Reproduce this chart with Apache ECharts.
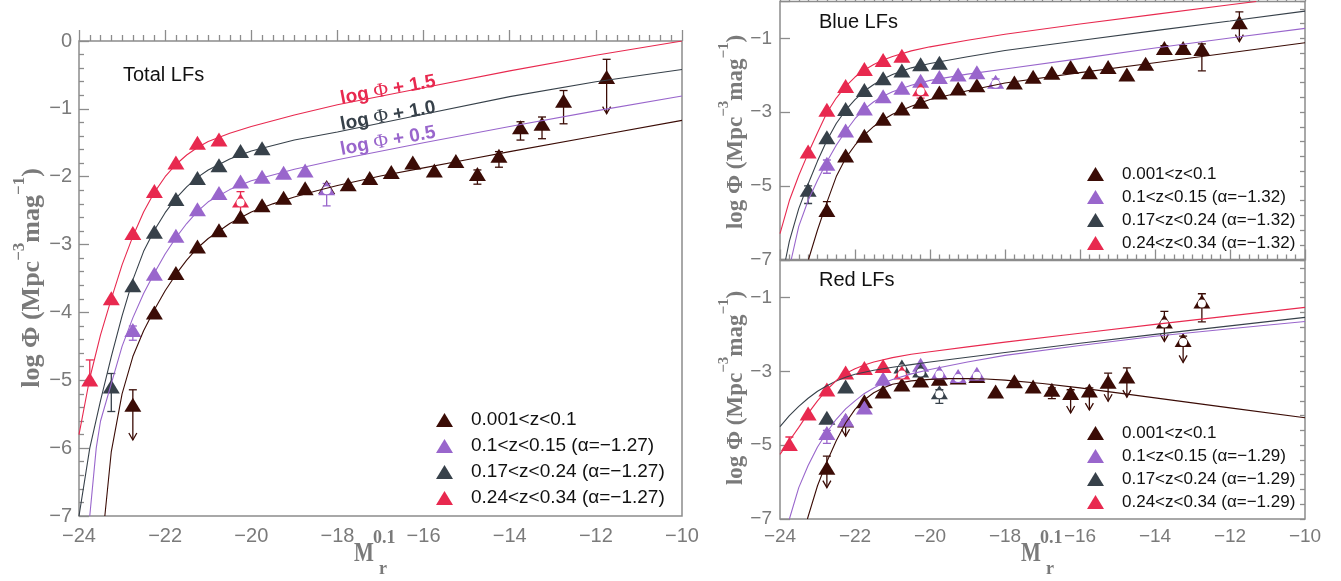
<!DOCTYPE html>
<html><head><meta charset="utf-8">
<script src="https://cdn.jsdelivr.net/npm/echarts@6/dist/echarts.min.js"></script>
<style>html,body{margin:0;padding:0;background:#fff}#c{width:1341px;height:581px}</style>
</head><body><div id="c"></div>
<script>
// ---------------- DATA ----------------
const xTicks = [-24, -22, -20, -18, -16, -14, -12, -10];
const NAMES_TOTAL = ['0.001<z<0.1', '0.1<z<0.15 (α=\u22121.27)', '0.17<z<0.24 (α=\u22121.27)', '0.24<z<0.34 (α=\u22121.27)'];
const NAMES_BLUE  = ['0.001<z<0.1', '0.1<z<0.15 (α=\u22121.32)', '0.17<z<0.24 (α=\u22121.32)', '0.24<z<0.34 (α=\u22121.32)'];
const NAMES_RED   = ['0.001<z<0.1', '0.1<z<0.15 (α=\u22121.29)', '0.17<z<0.24 (α=\u22121.29)', '0.24<z<0.34 (α=\u22121.29)'];

// Total LFs
const tBrown = [[-22.75,-5.36],[-22.25,-4.0],[-21.75,-3.42],[-21.25,-3.03],[-20.75,-2.79],[-20.25,-2.59],[-19.75,-2.42],[-19.25,-2.31],[-18.75,-2.17],[-18.25,-2.15],[-17.75,-2.11],[-17.25,-2.02],[-16.75,-1.93],[-16.25,-1.79],[-15.75,-1.91],[-15.25,-1.77],[-14.75,-1.96],[-14.25,-1.69],[-13.75,-1.27],[-13.25,-1.22],[-12.75,-0.88],[-11.75,-0.53]];
const tPurple = [[-22.75,-4.26],[-22.25,-3.43],[-21.75,-2.87],[-21.25,-2.48],[-20.75,-2.24],[-20.25,-2.07],[-19.75,-2.0],[-19.25,-1.94],[-18.75,-1.91]];
const tGray = [[-23.25,-5.09],[-22.75,-3.6],[-22.25,-2.81],[-21.75,-2.33],[-21.25,-2.02],[-20.75,-1.83],[-20.25,-1.62],[-19.75,-1.58]];
const tRed = [[-23.75,-4.99],[-23.25,-3.79],[-22.75,-2.83],[-22.25,-2.21],[-21.75,-1.79],[-21.25,-1.5],[-20.75,-1.45]];
const tPurpleOpen = [[-18.25,-2.17]];
const tRedOpen = [[-20.25,-2.35]];
// [x, top, bottom, arrow]
const tBrownErr = [[-22.75,-5.14,-5.88,1],[-14.75,-1.9,-2.11,0],[-14.25,-1.63,-1.86,0],[-13.75,-1.19,-1.46,0],[-13.25,-1.12,-1.44,0],[-12.75,-0.73,-1.22,0],[-11.75,-0.27,-1.07,1]];
const tPurpleErr = [[-22.75,-4.2,-4.41,0],[-18.25,-2.1,-2.43,0]];
const tGrayErr = [[-23.25,-4.9,-5.46,0]];
const tRedErr = [[-23.75,-4.7,-4.99,0],[-20.25,-2.22,-2.66,0]];
const tBrownFit = [[-23.4,-7],[-23.25,-6.05],[-23.0,-5.2],[-22.75,-4.65],[-22.5,-4.27],[-22.25,-3.96],[-22.0,-3.68],[-21.75,-3.44],[-21.5,-3.23],[-21.25,-3.05],[-21.0,-2.91],[-20.5,-2.69],[-20.0,-2.52],[-19.5,-2.4],[-19.0,-2.3],[-18.5,-2.21],[-18.0,-2.13],[-17.0,-1.99],[-16.0,-1.87],[-15.0,-1.75],[-14.0,-1.63],[-12.0,-1.4],[-10.0,-1.17]];
const tPurpleFit = [[-23.75,-7],[-23.6,-6.0],[-23.5,-5.6],[-23.25,-5.05],[-23.0,-4.5],[-22.75,-4.08],[-22.5,-3.72],[-22.25,-3.42],[-22.0,-3.14],[-21.75,-2.9],[-21.5,-2.69],[-21.25,-2.51],[-21.0,-2.37],[-20.5,-2.19],[-20.0,-2.06],[-19.0,-1.89],[-18.0,-1.75],[-16.0,-1.5],[-14.0,-1.26],[-12.0,-1.03],[-10.0,-0.81]];
const tGrayFit = [[-24.0,-7],[-23.75,-6.0],[-23.5,-5.3],[-23.25,-4.65],[-23.0,-4.05],[-22.75,-3.52],[-22.5,-3.1],[-22.25,-2.79],[-22.0,-2.53],[-21.75,-2.32],[-21.5,-2.15],[-21.25,-2.01],[-21.0,-1.9],[-20.5,-1.74],[-20.0,-1.62],[-19.0,-1.46],[-18.0,-1.34],[-16.0,-1.08],[-14.0,-0.82],[-12.0,-0.6],[-10.0,-0.42]];
const tRedFit = [[-24.0,-5.8],[-23.75,-4.97],[-23.5,-4.33],[-23.25,-3.8],[-23.0,-3.3],[-22.75,-2.88],[-22.5,-2.52],[-22.25,-2.23],[-22.0,-2.0],[-21.75,-1.82],[-21.5,-1.68],[-21.25,-1.57],[-21.0,-1.48],[-20.5,-1.36],[-20.0,-1.26],[-19.0,-1.09],[-18.0,-0.94],[-16.0,-0.69],[-14.0,-0.44],[-12.0,-0.21],[-10.0,0.0]];

// Blue LFs
const bBrown = [[-22.75,-5.66],[-22.25,-4.18],[-21.75,-3.64],[-21.25,-3.18],[-20.75,-2.9],[-20.25,-2.72],[-19.75,-2.47],[-19.25,-2.36],[-18.75,-2.27],[-17.75,-2.2],[-17.25,-2.04],[-16.75,-1.93],[-16.25,-1.78],[-15.75,-1.92],[-15.25,-1.78],[-14.75,-1.98],[-14.25,-1.69],[-13.75,-1.26],[-13.25,-1.26],[-12.75,-1.29],[-11.75,-0.56]];
const bPurple = [[-22.75,-4.4],[-22.25,-3.5],[-21.75,-2.9],[-21.25,-2.57],[-20.75,-2.34],[-20.25,-2.15],[-19.75,-2.05],[-19.25,-1.98],[-18.75,-1.92]];
const bGray = [[-23.25,-5.11],[-22.75,-3.68],[-22.25,-2.92],[-21.75,-2.4],[-21.25,-2.08],[-20.75,-1.87],[-20.25,-1.7],[-19.75,-1.66]];
const bRed = [[-23.25,-4.07],[-22.75,-2.94],[-22.25,-2.29],[-21.75,-1.83],[-21.25,-1.59],[-20.75,-1.47]];
const bPurpleOpen = [[-18.25,-2.18]];
const bRedOpen = [[-20.25,-2.38]];
const bBrownErr = [[-22.75,-5.43,-5.66,0],[-13.75,-1.2,-1.32,0],[-13.25,-1.2,-1.32,0],[-12.75,-1.15,-1.88,0],[-11.75,-0.28,-1.09,1]];
const bPurpleErr = [[-22.75,-4.3,-4.66,0],[-18.25,-2.1,-2.35,0]];
const bGrayErr = [[-23.25,-5.0,-5.48,0]];
const bRedErr = [[-20.25,-2.3,-2.62,0]];
const bBrownFit = [[-23.24,-7],[-23.0,-6.2],[-22.75,-5.45],[-22.5,-4.75],[-22.25,-4.25],[-22.0,-3.9],[-21.75,-3.62],[-21.5,-3.39],[-21.25,-3.21],[-21.0,-3.06],[-20.5,-2.84],[-20.0,-2.66],[-19.0,-2.42],[-18.0,-2.21],[-16.0,-1.93],[-14.0,-1.66],[-12.0,-1.39],[-10.0,-1.12]];
const bPurpleFit = [[-23.7,-7],[-23.5,-6.1],[-23.25,-5.4],[-23.0,-4.85],[-22.75,-4.35],[-22.5,-3.9],[-22.25,-3.52],[-22.0,-3.18],[-21.75,-2.92],[-21.5,-2.72],[-21.25,-2.57],[-21.0,-2.45],[-20.5,-2.27],[-20.0,-2.14],[-19.0,-1.97],[-18.0,-1.83],[-16.0,-1.55],[-14.0,-1.26],[-12.0,-0.99],[-10.0,-0.73]];
const bGrayFit = [[-23.85,-7],[-23.75,-6.5],[-23.5,-5.62],[-23.25,-4.95],[-23.0,-4.33],[-22.75,-3.77],[-22.5,-3.31],[-22.25,-2.95],[-22.0,-2.66],[-21.75,-2.43],[-21.5,-2.25],[-21.25,-2.1],[-21.0,-1.98],[-20.5,-1.8],[-20.0,-1.68],[-19.0,-1.5],[-18.0,-1.33],[-16.0,-1.06],[-14.0,-0.79],[-12.0,-0.53],[-10.0,-0.26]];
const bRedFit = [[-24.0,-6.3],[-23.75,-5.4],[-23.5,-4.72],[-23.25,-4.12],[-23.0,-3.56],[-22.75,-3.02],[-22.5,-2.62],[-22.25,-2.3],[-22.0,-2.05],[-21.75,-1.86],[-21.5,-1.71],[-21.25,-1.59],[-21.0,-1.49],[-20.5,-1.34],[-20.0,-1.23],[-19.0,-1.05],[-18.0,-0.89],[-16.0,-0.61],[-14.0,-0.35],[-12.0,-0.09],[-11.3,0.0]];

// Red LFs
const rBrown = [[-22.75,-5.61],[-22.25,-4.33],[-21.75,-3.81],[-21.25,-3.55],[-20.75,-3.36],[-20.25,-3.25],[-19.75,-3.2],[-19.25,-3.17],[-18.75,-3.13],[-18.25,-3.55],[-17.75,-3.27],[-17.25,-3.41],[-16.75,-3.5],[-16.25,-3.59],[-15.75,-3.52],[-15.25,-3.28],[-14.75,-3.14]];
const rPurple = [[-22.75,-4.67],[-22.25,-4.31],[-21.75,-3.98],[-21.25,-3.2],[-20.25,-2.82]];
const rGray = [[-22.75,-4.26],[-22.25,-3.41]];
const rRed = [[-23.75,-4.97],[-23.25,-4.14],[-22.75,-3.49],[-22.25,-3.03],[-21.75,-2.91],[-21.25,-2.86]];
const rBrownOpen = [[-13.75,-1.65],[-13.25,-2.15],[-12.75,-1.11]];
const rPurpleOpen = [[-19.75,-3.03],[-19.25,-3.13],[-18.75,-3.07]];
const rGrayOpen = [[-20.75,-2.87],[-20.25,-2.98],[-19.75,-3.57]];
const rRedOpen = [[-20.75,-3.03]];
const rBrownErr = [[-22.75,-5.3,-6.15,1],[-22.25,-4.3,-4.76,1],[-16.75,-3.45,-3.74,0],[-16.25,-3.5,-4.13,1],[-15.75,-3.45,-4.05,1],[-15.25,-3.05,-3.81,1],[-14.75,-2.91,-3.7,1],[-13.75,-1.38,-2.19,1],[-13.25,-2.05,-2.76,1],[-12.75,-0.9,-1.66,0]];
const rPurpleErr = [[-22.75,-4.6,-4.95,0]];
const rGrayErr = [[-19.75,-3.5,-3.87,0]];
const rRedErr = [[-23.75,-4.78,-5.0,0]];
const rBrownFit = [[-23.27,-7],[-23.0,-6.1],[-22.75,-5.45],[-22.5,-4.88],[-22.25,-4.4],[-22.0,-4.03],[-21.75,-3.77],[-21.5,-3.58],[-21.25,-3.45],[-21.0,-3.35],[-20.5,-3.26],[-20.0,-3.22],[-19.5,-3.2],[-19.0,-3.2],[-18.5,-3.21],[-18.0,-3.24],[-17.0,-3.33],[-16.0,-3.45],[-14.0,-3.72],[-12.0,-3.99],[-10.0,-4.26]];
const rPurpleFit = [[-23.75,-7],[-23.5,-6.15],[-23.25,-5.55],[-23.0,-5.05],[-22.75,-4.65],[-22.5,-4.3],[-22.25,-4.02],[-22.0,-3.8],[-21.75,-3.6],[-21.5,-3.45],[-21.25,-3.32],[-21.0,-3.22],[-20.5,-3.07],[-20.0,-2.95],[-19.0,-2.75],[-18.0,-2.57],[-16.0,-2.3],[-14.0,-2.05],[-12.0,-1.85],[-10.0,-1.65]];
const rGrayFit = [[-24.0,-4.5],[-23.75,-4.2],[-23.5,-3.95],[-23.25,-3.73],[-23.0,-3.54],[-22.75,-3.39],[-22.5,-3.26],[-22.25,-3.16],[-22.0,-3.08],[-21.5,-2.97],[-21.0,-2.89],[-20.5,-2.82],[-20.0,-2.75],[-19.0,-2.62],[-18.0,-2.49],[-16.0,-2.24],[-14.0,-2.0],[-12.0,-1.77],[-10.0,-1.54]];
const rRedFit = [[-24.0,-5.25],[-23.75,-4.88],[-23.5,-4.52],[-23.25,-4.14],[-23.0,-3.8],[-22.75,-3.5],[-22.5,-3.25],[-22.25,-3.06],[-22.0,-2.93],[-21.75,-2.83],[-21.5,-2.75],[-21.0,-2.63],[-20.5,-2.54],[-20.0,-2.47],[-19.0,-2.34],[-18.0,-2.21],[-16.0,-1.97],[-14.0,-1.73],[-12.0,-1.5],[-10.0,-1.27]];

// ---------------- STYLE ----------------
const COLORS = ['#3b0c06', '#9966cc', '#37414a', '#e8294f'];
const AX = '#8c8c8c', LB = '#7a7a7a', TXT = '#111';
const SANS = 'Liberation Sans', SERIF = 'Liberation Serif';
const fmt = v => v === 0 ? '0' : (v < 0 ? '\u2212' : '') + Math.abs(v);
const fmtR = v => v === 0 ? '' : fmt(v);

const panels = [
  {names: NAMES_TOTAL, pts: [tBrown, tPurple, tGray, tRed], open: [[], tPurpleOpen, [], tRedOpen], err: [tBrownErr, tPurpleErr, tGrayErr, tRedErr], fit: [tBrownFit, tPurpleFit, tGrayFit, tRedFit], size: [17, 14]},
  {names: NAMES_BLUE, pts: [bBrown, bPurple, bGray, bRed], open: [[], bPurpleOpen, [], bRedOpen], err: [bBrownErr, bPurpleErr, bGrayErr, bRedErr], fit: [bBrownFit, bPurpleFit, bGrayFit, bRedFit], size: [17, 14]},
  {names: NAMES_RED, pts: [rBrown, rPurple, rGray, rRed], open: [rBrownOpen, rPurpleOpen, rGrayOpen, rRedOpen], err: [rBrownErr, rPurpleErr, rGrayErr, rRedErr], fit: [rBrownFit, rPurpleFit, rGrayFit, rRedFit], size: [17, 14]}
];

function errSeries(gi, data, color) {
  return {
    type: 'custom', xAxisIndex: gi, yAxisIndex: gi, data: data, silent: true, clip: true,
    encode: {x: 0, y: [1, 2]},
    renderItem: function (params, api) {
      const x = api.value(0);
      const a = api.coord([x, api.value(1)]);
      const b = api.coord([x, api.value(2)]);
      const st = {stroke: color, lineWidth: 1.3, fill: null};
      const ch = [
        {type: 'line', shape: {x1: a[0], y1: a[1], x2: b[0], y2: b[1]}, style: st},
        {type: 'line', shape: {x1: a[0] - 4, y1: a[1], x2: a[0] + 4, y2: a[1]}, style: st}
      ];
      if (api.value(3)) {
        ch.push({type: 'polyline', shape: {points: [[b[0] - 4, b[1] - 7], [b[0], b[1]], [b[0] + 4, b[1] - 7]]}, style: st});
      } else {
        ch.push({type: 'line', shape: {x1: b[0] - 4, y1: b[1], x2: b[0] + 4, y2: b[1]}, style: st});
      }
      return {type: 'group', children: ch};
    }
  };
}

const series = [];
panels.forEach(function (p, gi) {
  p.fit.forEach(function (f, k) {
    series.push({type: 'line', name: 'fit' + gi + k, xAxisIndex: gi, yAxisIndex: gi, data: f, symbol: 'none', showSymbol: false,
      smooth: false, silent: true, lineStyle: {color: COLORS[k], width: 1.1}});
  });
  for (let k = 0; k < 4; k++) {
    series.push(errSeries(gi, p.err[k], COLORS[k]));
    series.push({type: 'scatter', name: p.names[k], xAxisIndex: gi, yAxisIndex: gi, data: p.pts[k], symbol: 'triangle',
      symbolSize: p.size, itemStyle: {color: COLORS[k], opacity: 1}, silent: true});
    if (p.open[k].length) {
      series.push({type: 'scatter', name: 'open' + gi + k, xAxisIndex: gi, yAxisIndex: gi, data: p.open[k], symbol: 'triangle',
        symbolSize: p.size, itemStyle: {color: COLORS[k], opacity: 1}, silent: true});
      series.push({type: 'scatter', name: 'openc' + gi + k, xAxisIndex: gi, yAxisIndex: gi, data: p.open[k], symbol: 'circle',
        symbolSize: 8, symbolOffset: [0, 2], itemStyle: {color: '#ffffff', opacity: 1}, silent: true});
    }
  }
});

function xAxis(gi, showLabel, fs, margin) {
  return {gridIndex: gi, type: 'value', min: -24, max: -10, interval: 2,
    axisLine: {show: false}, splitLine: {show: false},
    axisTick: {inside: true, length: 11, lineStyle: {color: AX, width: 1.3}},
    minorTick: {show: true, splitNumber: 8, length: 6, lineStyle: {color: AX, width: 1.3}},
    axisLabel: {show: showLabel, fontSize: fs, fontFamily: SANS, color: LB, margin: margin, formatter: fmt}};
}

const option = {
  animation: false,
  backgroundColor: '#fff',
  grid: [
    {left: 79, top: 41, width: 603, height: 475, show: true, borderColor: AX, borderWidth: 1.5, backgroundColor: 'transparent'},
    {left: 780, top: 1.5, width: 525, height: 258, show: true, borderColor: AX, borderWidth: 1.5, backgroundColor: 'transparent'},
    {left: 780, top: 260.5, width: 525, height: 258.5, show: true, borderColor: AX, borderWidth: 1.5, backgroundColor: 'transparent'}
  ],
  xAxis: [xAxis(0, true, 20, 10), xAxis(1, false, 19, 8), xAxis(2, true, 19, 8)],
  yAxis: [
    {gridIndex: 0, type: 'value', min: -7, max: 0, interval: 1, axisLine: {show: false}, splitLine: {show: false},
      axisTick: {inside: true, length: 10, lineStyle: {color: AX, width: 1.3}},
      minorTick: {show: true, splitNumber: 5, length: 5, lineStyle: {color: AX, width: 1.3}},
      axisLabel: {fontSize: 20, fontFamily: SANS, color: LB, margin: 7, formatter: fmt}},
    {gridIndex: 1, type: 'value', min: -7, max: 0, interval: 2, axisLine: {show: false}, splitLine: {show: false},
      axisTick: {inside: true, length: 10, lineStyle: {color: AX, width: 1.3}},
      axisLabel: {fontSize: 19, fontFamily: SANS, color: LB, margin: 8, formatter: fmtR}},
    {gridIndex: 2, type: 'value', min: -7, max: 0, interval: 2, axisLine: {show: false}, splitLine: {show: false},
      axisTick: {inside: true, length: 10, lineStyle: {color: AX, width: 1.3}},
      axisLabel: {fontSize: 19, fontFamily: SANS, color: LB, margin: 8, formatter: fmtR}},
    {gridIndex: 1, type: 'value', min: -7, max: 0, interval: 0.4, axisLine: {show: false}, splitLine: {show: false},
      axisTick: {inside: true, length: 5, lineStyle: {color: AX, width: 1.3}}, axisLabel: {show: false}},
    {gridIndex: 2, type: 'value', min: -7, max: 0, interval: 0.4, axisLine: {show: false}, splitLine: {show: false},
      axisTick: {inside: true, length: 5, lineStyle: {color: AX, width: 1.3}}, axisLabel: {show: false}}
  ],
  legend: [
    {data: NAMES_TOTAL, orient: 'vertical', left: 431, top: 405, itemWidth: 17, itemHeight: 14, itemGap: 6, icon: 'triangle',
      selectedMode: false, textStyle: {fontSize: 19, lineHeight: 20, fontFamily: SANS, color: TXT, padding: [0, 0, 0, 13]}},
    {data: NAMES_BLUE, orient: 'vertical', left: 1082, top: 160, itemWidth: 17, itemHeight: 14, itemGap: 5, icon: 'triangle',
      selectedMode: false, textStyle: {fontSize: 17, lineHeight: 18, fontFamily: SANS, color: TXT, padding: [0, 0, 0, 13]}},
    {data: NAMES_RED, orient: 'vertical', left: 1082, top: 419, itemWidth: 17, itemHeight: 14, itemGap: 5, icon: 'triangle',
      selectedMode: false, textStyle: {fontSize: 17, lineHeight: 18, fontFamily: SANS, color: TXT, padding: [0, 0, 0, 13]}}
  ],
  graphic: [],
  series: series
};

function ytitle(x, y, fs, sfs) {
  return {type: 'text', x: x, y: y, rotation: Math.PI / 2, silent: true,
    style: {text: '{a|log Φ (Mpc}{s|\u22123}{a|mag}{s|\u22121}{a|)}', align: 'center', verticalAlign: 'middle',
      rich: {a: {fontSize: fs, fontFamily: SERIF, fontWeight: 'bold', fill: LB, lineHeight: fs + 8, verticalAlign: 'bottom'},
             s: {fontSize: sfs, fontFamily: SERIF, fontWeight: 'bold', fill: LB, lineHeight: sfs - 1, verticalAlign: 'top'}}}};
}
function xtitle(mx, my) {
  return [
    {type: 'text', x: mx, y: my, scaleX: 0.78, silent: true, style: {text: 'M', align: 'center', verticalAlign: 'middle', fontSize: 27, fontFamily: SERIF, fontWeight: 'bold', fill: LB}},
    {type: 'text', x: mx + 9, y: my - 16, silent: true, style: {text: '0.1', align: 'left', verticalAlign: 'middle', fontSize: 18, fontFamily: SERIF, fontWeight: 'bold', fill: LB}},
    {type: 'text', x: mx + 19, y: my + 15, silent: true, style: {text: 'r', align: 'center', verticalAlign: 'middle', fontSize: 18, fontFamily: SERIF, fontWeight: 'bold', fill: LB}}
  ];
}
function note(x, y, txt, color) {
  return {type: 'text', x: x, y: y, rotation: 10.5 * Math.PI / 180, silent: true,
    style: {text: '{b|log }{p|Φ}{b| + ' + txt + '}', align: 'center', verticalAlign: 'middle',
      rich: {b: {fontSize: 19, fontFamily: SANS, fontWeight: 'bold', fill: color}, p: {fontSize: 20, fontFamily: SERIF, fill: color}}}};
}
const tt = (x, y, t) => ({type: 'text', x: x, y: y, silent: true, style: {text: t, align: 'left', verticalAlign: 'middle', fontSize: 20, fontFamily: SANS, fill: TXT}});

option.graphic = [
  tt(123, 75, 'Total LFs'), tt(819, 22, 'Blue LFs'), tt(819, 280, 'Red LFs'),
  ytitle(28, 278, 26, 17), ytitle(732, 132, 23, 15), ytitle(732, 388, 23, 15),
  ...xtitle(364, 554), ...xtitle(1031, 554),
  note(388, 90, '1.5', COLORS[3]), note(388, 116, '1.0', COLORS[2]), note(388, 141, '0.5', COLORS[1])
];

const chart = echarts.init(document.getElementById('c'));
chart.setOption(option);
</script></body></html>
